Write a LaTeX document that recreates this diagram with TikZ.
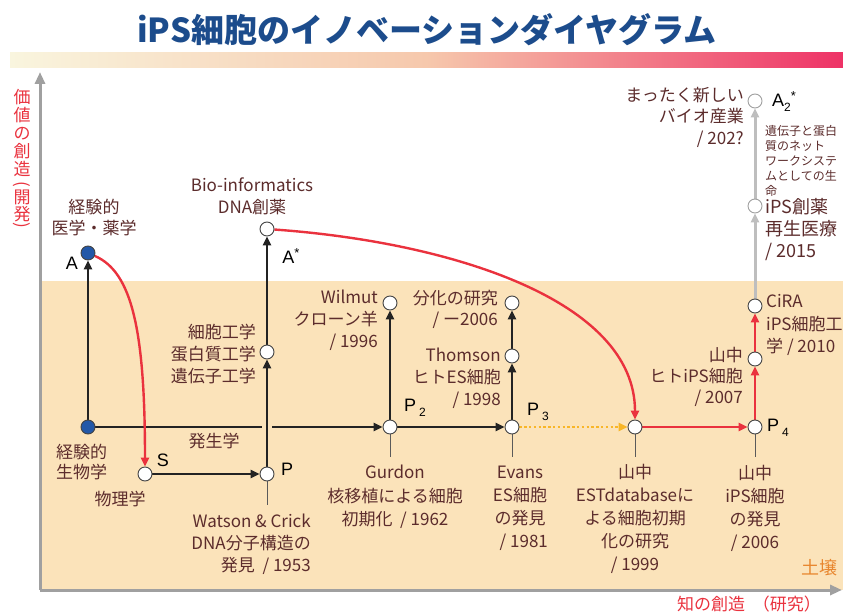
\documentclass[tikz,border=0pt]{standalone}
\usepackage{fontspec}
\setmainfont{Noto Sans CJK JP}
\newfontfamily\latf{Liberation Sans}
\usetikzlibrary{arrows.meta}
\pgfdeclarelayer{back}
\pgfdeclarelayer{edges}
\pgfsetlayers{back,edges,main}
\definecolor{ttl}{RGB}{28,76,140}
\definecolor{brn}{RGB}{92,44,44}
\definecolor{rd}{RGB}{234,50,62}
\definecolor{tanc}{RGB}{251,227,186}
\definecolor{dotc}{RGB}{248,182,40}
\definecolor{axc}{RGB}{160,160,160}
\definecolor{lgc}{RGB}{190,190,190}
\definecolor{blk}{RGB}{35,35,35}
\definecolor{bluen}{RGB}{35,88,168}
\definecolor{orgc}{RGB}{232,134,46}
\definecolor{barl}{RGB}{249,245,222}
\definecolor{barm}{RGB}{246,200,172}
\definecolor{barr}{RGB}{238,50,102}
\tikzset{
 nd/.style={circle,draw=blk!85,line width=0.9pt,fill=white,minimum size=14pt,inner sep=0pt},
 bnd/.style={nd,fill=bluen},
 gnd/.style={nd,draw=axc},
 lbl/.style={text=brn,font=\fontsize{17}{22}\selectfont,inner sep=0pt},
 ltr/.style={font=\latf\fontsize{18}{20}\selectfont,inner sep=0pt,text=black},
 tip/.style={-{Triangle[length=9pt,width=8pt]}},
 barrow/.style={draw=blk,line width=2.5pt,tip},
 rarrow/.style={draw=rd,line width=2.4pt,tip},
 garrow/.style={draw=lgc,line width=3pt,tip},
 darrow/.style={draw=dotc,line width=2.4pt,dash pattern=on 2.4pt off 2.4pt,tip},
 tick/.style={draw=blk!75,line width=0.9pt},
}
\newcommand{\subn}[1]{\raisebox{-5pt}{\fontsize{12}{12}\selectfont #1}}
\newcommand{\supst}[1]{\raisebox{6pt}{\fontsize{13}{13}\selectfont #1}}
\newcommand{\vparen}[1]{\rotatebox[origin=c]{-90}{#1}}
\begin{document}
\begin{tikzpicture}[x=1pt,y=-1pt]
\useasboundingbox (0,0) rectangle (843,612);
\begin{pgfonlayer}{back}
\fill[white] (0,0) rectangle (843,612);
\shade[left color=barl,right color=barr,middle color=barm] (10,53) rectangle (843,68);
\fill[tanc] (40,281) rectangle (843,590);
\draw[axc,line width=3pt,-{Triangle[length=12pt,width=10pt]}] (40,590) -- (40,72);
\draw[axc,line width=3pt,-{Triangle[length=12pt,width=10pt]}] (40,590) -- (842,590);
\end{pgfonlayer}

% title
\node[font=\fontsize{33}{36}\selectfont\bfseries,text=ttl,inner sep=0pt] (title) at (427,30) {iPS細胞のイノベーションダイヤグラム};

% nodes
\node[bnd] (A) at (88,253) {};
\node[bnd] (B) at (88,427) {};
\node[nd] (S) at (145,474) {};
\node[nd] (P) at (267,474) {};
\node[nd] (G) at (267,352) {};
\node[nd] (As) at (267,229) {};
\node[nd] (P2) at (390,427) {};
\node[nd] (W) at (390,303) {};
\node[nd] (P3) at (512,427) {};
\node[nd] (T) at (512,356) {};
\node[nd] (D) at (512,303) {};
\node[nd] (Y1) at (635,427) {};
\node[nd] (P4) at (755,427) {};
\node[nd] (Y2) at (755,359) {};
\node[nd] (C) at (755,306) {};
\node[gnd] (I) at (755,206) {};
\node[gnd] (A2) at (755,101) {};

% connectors
\begin{pgfonlayer}{edges}
\draw[barrow] (B) -- (A);
\draw[barrow] (B) -- (P2);
\draw[barrow,preaction={draw=tanc,line width=10pt,-}] (P) -- (G);
\draw[barrow] (G) -- (As);
\draw[barrow] (S) -- (P);
\draw[barrow] (P2) -- (W);
\draw[barrow] (P2) -- (P3);
\draw[barrow] (P3) -- (T);
\draw[barrow] (T) -- (D);
\draw[darrow] (P3) -- (Y1);
\draw[rarrow] (Y1) -- (P4);
\draw[rarrow] (P4) -- (Y2);
\draw[rarrow] (Y2) -- (C);
\draw[garrow] (C) -- (I);
\draw[garrow] (I) -- (A2);
\draw[rarrow] (A) .. controls (132,272) and (145,330) .. (S);
\draw[rarrow] (As) .. controls (450,242) and (635,300) .. (Y1);
\draw[tick] (P.south) -- ++(0,24);
\draw[tick] (P2.south) -- ++(0,23);
\draw[tick] (P3.south) -- ++(0,23);
\draw[tick] (Y1.south) -- ++(0,23);
\draw[tick] (P4.south) -- ++(0,23);
\end{pgfonlayer}

% letter labels
\node[ltr] (lA) at (72,263) {A};
\node[ltr] (lAs) at (291,256) {A\supst{*}};
\node[ltr] (lS) at (163,460) {S};
\node[ltr] (lP) at (287,469) {P};
\node[ltr] (lP2) at (415,408) {P\,\subn{2}};
\node[ltr] (lP3) at (538,412) {P\,\subn{3}};
\node[ltr] (lP4) at (778,428) {P\,\subn{4}};
\node[ltr] (lA2) at (784,102) {A\subn{2}\supst{*}};

% text labels
\node[lbl,align=center,font=\fontsize{17}{21}\selectfont] (t1) at (94,218) {経験的\\医学・薬学};
\node[lbl,align=center] (t2) at (252,196) {Bio-informatics\\DNA創薬};
\node[lbl,align=right,anchor=east] (t3) at (256,354) {細胞工学\\蛋白質工学\\遺伝子工学};
\node[lbl] (t4) at (214,441) {発生学};
\node[lbl,align=left,anchor=west,font=\fontsize{17}{20}\selectfont] (t5) at (56,462) {経験的\\生物学};
\node[lbl] (t6) at (120,499) {物理学};
\node[lbl,align=right,anchor=east] (t7) at (311,544) {Watson \& Crick\\DNA分子構造の\\発見\ \ / 1953};
\node[lbl,align=right,anchor=east] (t8) at (378,320) {Wilmut\\クローン羊\\/ 1996};
\node[lbl,align=right,anchor=east,font=\fontsize{17}{21}\selectfont] (t9) at (498,309) {分化の研究\\/ ー2006};
\node[lbl,align=right,anchor=east] (t10) at (501,378) {Thomson\\ヒトES細胞\\/ 1998};
\node[lbl,align=center,font=\fontsize{17}{23.5}\selectfont] (t11) at (395,497) {Gurdon\\核移植による細胞\\初期化\ \ / 1962};
\node[lbl,align=center,font=\fontsize{17}{23}\selectfont] (t12) at (520,508) {Evans\\ES細胞\\の発見\\\ \ / 1981};
\node[lbl,align=center,font=\fontsize{17}{23}\selectfont] (t13) at (635,519) {山中\\ESTdatabaseに\\よる細胞初期\\化の研究\\/ 1999};
\node[lbl,align=center,font=\fontsize{17}{23}\selectfont] (t14) at (755,508) {山中\\iPS細胞\\の発見\\/ 2006};
\node[lbl,align=right,anchor=east,font=\fontsize{17}{21}\selectfont] (t15) at (743,377) {山中\\ヒトiPS細胞\\/ 2007};
\node[lbl,align=left,anchor=west,font=\fontsize{17}{22.5}\selectfont] (t16) at (766,325) {CiRA\\iPS細胞工\\学 / 2010};
\node[lbl,align=left,anchor=west,font=\fontsize{18}{22}\selectfont] (t17) at (765,230) {iPS創薬\\再生医療\\/ 2015};
\node[lbl,align=left,anchor=west,font=\fontsize{12}{15}\selectfont] (t18) at (765,161) {遺伝子と蛋白\\質のネット\\ワークシステ\\ムとしての生\\命};
\node[lbl,align=right,anchor=east,font=\fontsize{17}{21.5}\selectfont] (t19) at (744,117) {まったく新しい\\バイオ産業\\/ 202?};
\node[text=orgc,font=\fontsize{18}{20}\selectfont,inner sep=0pt] (soil) at (819,568) {土壌};
\node[text=rd,font=\fontsize{17}{20}\selectfont,inner sep=0pt,anchor=east] (xl) at (821,604) {知の創造\ \ （研究）};
\node[text=rd,font=\fontsize{17}{18}\selectfont,inner sep=0pt,align=center,anchor=north] (yl) at (22,89) {価\\値\\の\\創\\造\\[-4pt]\vparen{(}\\[-4pt]開\\[-1pt]発\\[-8pt]\vparen{)}};
\end{tikzpicture}
\end{document}
